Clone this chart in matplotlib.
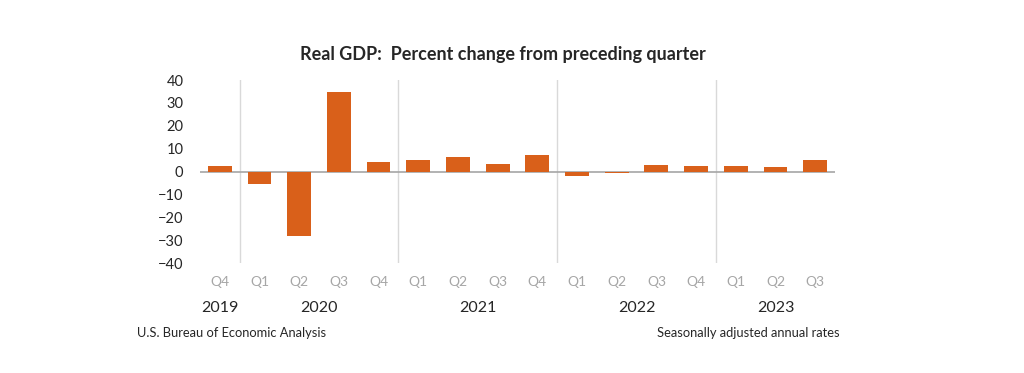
import matplotlib.pyplot as plt
import numpy as np

plt.rcParams['font.family'] = ['Lato', 'DejaVu Sans']

quarters = ['Q4', 'Q1', 'Q2', 'Q3', 'Q4', 'Q1', 'Q2', 'Q3', 'Q4',
            'Q1', 'Q2', 'Q3', 'Q4', 'Q1', 'Q2', 'Q3']
years = ['2019', '2020', '2021', '2022', '2023']
year_counts = [1, 4, 4, 4, 3]
gdp_change = [2.6, -5.3, -28.0, 34.8, 4.2, 5.2, 6.2, 3.3, 7.0,
              -2.0, -0.6, 2.7, 2.6, 2.2, 2.1, 4.9]

bar_color = '#D9601A'

fig = plt.figure(figsize=(10.24, 3.73), dpi=100)
ax = fig.add_axes([0.1953, 0.2949, 0.6201, 0.4906])

x = np.arange(len(gdp_change))
ax.bar(x, gdp_change, width=0.6, color=bar_color, zorder=3)
ax.axhline(0, color='#A6A6A6', lw=1.2, zorder=2)

ax.set_xlim(-0.5, len(x) - 0.5)
ax.set_ylim(-40, 40)
ax.set_yticks(np.arange(-40, 41, 10))
ax.tick_params(axis='y', length=0, labelsize=10.5, colors='#262626', pad=12)
ax.set_xticks([])
for s in ax.spines.values():
    s.set_visible(False)

# year separators and labels
start = 0
for yr, n in zip(years, year_counts):
    if start > 0:
        ax.axvline(start - 0.5, color='#D9D9D9', lw=1, zorder=1)
    center = start + (n - 1) / 2
    ax.text(center, -59.5, yr, ha='center', va='center', fontsize=11.5, color='#262626')
    start += n

for i, q in enumerate(quarters):
    ax.text(i, -48.5, q, ha='center', va='center', fontsize=10, color='#A6A6A6')

fig.text(0.491, 0.853, 'Real GDP:  Percent change from preceding quarter',
         ha='center', va='center', fontsize=13, fontweight='bold', color='#262626')
fig.text(0.134, 0.107, 'U.S. Bureau of Economic Analysis', ha='left', va='center',
         fontsize=9.3, color='#262626')
fig.text(0.82, 0.107, 'Seasonally adjusted annual rates', ha='right', va='center',
         fontsize=9.3, color='#262626')

fig.savefig('out.png', dpi=100)
